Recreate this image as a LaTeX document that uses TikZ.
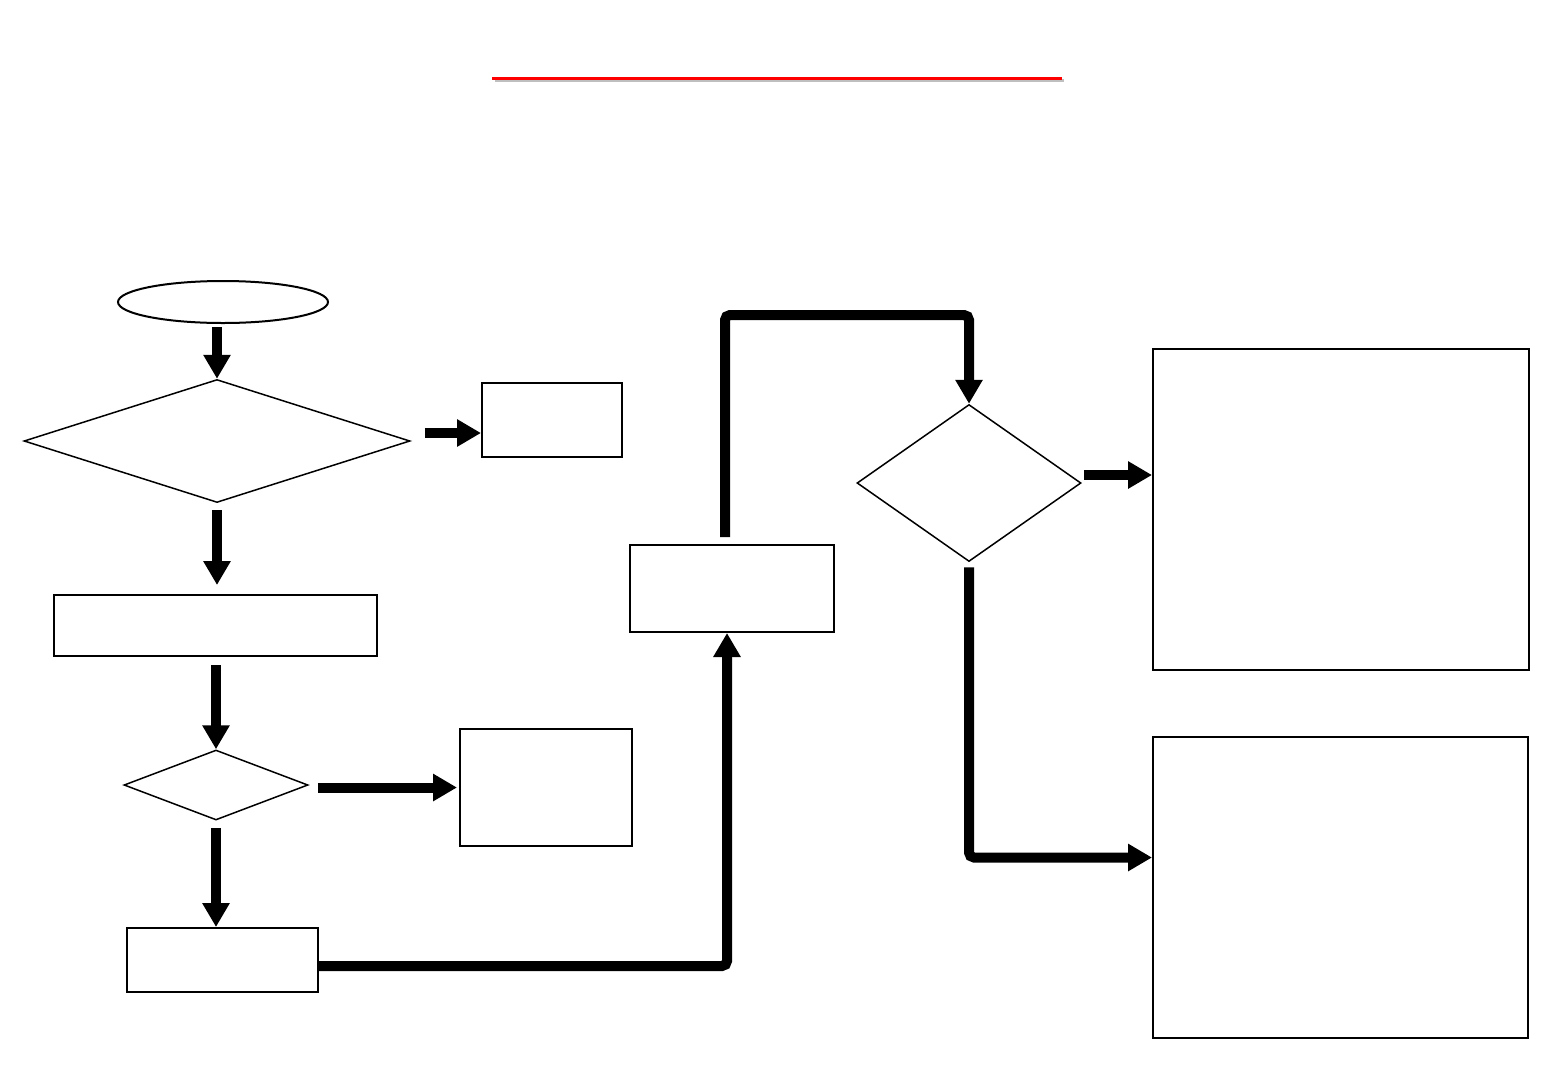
\documentclass[tikz,border=0pt]{standalone}
\usetikzlibrary{arrows.meta,shapes.geometric}

\begin{document}
\begin{tikzpicture}[x=1pt, y=-1pt, >={Triangle[length=24pt, width=26pt]},
  box/.style={draw, rectangle, line width=2pt, inner sep=0pt},
  choice/.style={draw, diamond, line width=1.5pt, inner sep=0pt},
  flow/.style={->, line width=10pt, rounded corners=5pt}]
\useasboundingbox (0,0) rectangle (1560,1080);

% title underline
\draw[line width=3pt, black!25] (495,80) -- (1064,80);
\draw[line width=3pt, red] (492,78) -- (1062,78);

\node[draw, ellipse, line width=2pt, minimum width=210pt, minimum height=42pt] (start) at (223,302) {};
\node[choice, minimum width=386pt, minimum height=123pt] (check) at (217,441) {};
\node[box, minimum width=140pt, minimum height=74pt] (reject) at (552,420) {};
\node[box, minimum width=323pt, minimum height=61pt] (prepare) at (215.5,625.5) {};
\node[choice, minimum width=184pt, minimum height=70pt] (verify) at (216,785) {};
\node[box, minimum width=172pt, minimum height=117pt] (hold) at (546,787.5) {};
\node[box, minimum width=191pt, minimum height=64pt] (submit) at (222.5,960) {};
\node[box, minimum width=204pt, minimum height=87pt] (review) at (732,588.5) {};
\node[choice, minimum width=224pt, minimum height=157pt] (decide) at (969,483) {};
\node[box, minimum width=376pt, minimum height=321pt] (accept) at (1341,509.5) {};
\node[box, minimum width=375pt, minimum height=301pt] (refuse) at (1340.5,887.5) {};

\draw[flow, shorten <=3pt] (start.south -| check.north) -- (check.north);
\draw[flow, shorten <=14pt] ([yshift=8pt]check.east) -- ([yshift=8pt]check.east -| reject.west);
\draw[flow, shorten <=7pt, shorten >=9pt] (check.south) -- (check.south |- prepare.north);
\draw[flow, shorten <=8pt] (prepare.south -| verify.north) -- (verify.north);
\draw[flow, shorten <=9pt, shorten >=2pt] (verify.east |- hold.west) -- (hold.west);
\draw[flow, shorten <=7pt] (verify.south) -- (verify.south |- submit.north);
\draw[flow] ([yshift=-6pt]submit.east) -| ([xshift=-5pt]review.south);
\draw[flow, shorten <=7pt] ([xshift=-7pt]review.north) -- ++(0,-229) -| (decide.north);
\draw[flow, shorten <=2pt] ([yshift=8pt]decide.east) -- ([yshift=8pt]decide.east -| accept.west);
\draw[flow, shorten <=5pt] (decide.south) |- ([yshift=30pt]refuse.west);
\end{tikzpicture}
\end{document}
